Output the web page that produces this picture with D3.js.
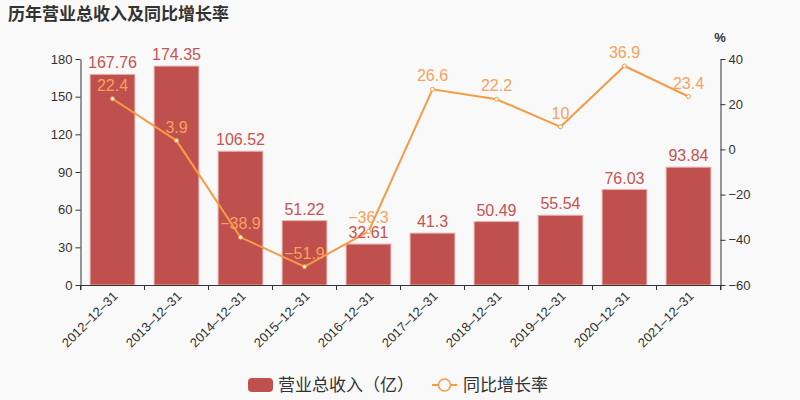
<!DOCTYPE html>
<html><head><meta charset="utf-8">
<script src="https://cdn.jsdelivr.net/npm/d3@7"></script>
<style>
html,body{margin:0;padding:0;background:#f9f9f9;}
svg{display:block;font-family:"Liberation Sans","Noto Sans CJK SC",sans-serif;}
</style></head><body>
<svg id="c" width="800" height="400"></svg>
<script>
const categories = ["2012-12-31","2013-12-31","2014-12-31","2015-12-31","2016-12-31","2017-12-31","2018-12-31","2019-12-31","2020-12-31","2021-12-31"];
const revenue = [167.76,174.35,106.52,51.22,32.61,41.3,50.49,55.54,76.03,93.84];
const growth = [22.4,3.9,-38.9,-51.9,-36.3,26.6,22.2,10,36.9,23.4];
const leftTicks = [0,30,60,90,120,150,180];
const rightTicks = [-60,-40,-20,0,20,40];

const svg = d3.select("#c");
const L=80.5, R=720.5, T=59, B=285;
const x = d3.scaleBand().domain(categories).range([L,R]).paddingInner(0.3).paddingOuter(0.15);
const y = d3.scaleLinear().domain([0,180]).range([B,T]);
const y2 = d3.scaleLinear().domain([-60,40]).range([B,T]);
const barColor="#c0504d", lineColor="#f79a45";

svg.append("rect").attr("width",800).attr("height",400).attr("fill","#f9f9f9");
svg.append("text").attr("x",8).attr("y",20).text("历年营业总收入及同比增长率")
  .attr("font-family","'Noto Sans CJK SC',sans-serif").attr("font-weight","bold").attr("font-size",17).attr("fill","#333");

// bars
svg.append("g").selectAll("rect").data(revenue).join("rect")
  .attr("x",(d,i)=>x(categories[i])).attr("width",x.bandwidth())
  .attr("y",d=>y(d)).attr("height",d=>B-y(d))
  .attr("fill",barColor).attr("stroke","#e8b0ae").attr("stroke-width",1);

// axes
const ax = svg.append("g").attr("transform",`translate(0,${B})`)
  .call(d3.axisBottom(x).tickSize(5).tickFormat(d=>d.replace(/-/g,"\u2013")));
ax.selectAll(".tick line").attr("transform",`translate(${-x.step()/2},0)`);
ax.append("line").attr("x1",R).attr("x2",R).attr("y1",0).attr("y2",5).attr("stroke","#333");
ax.selectAll("text").attr("font-size",13).attr("fill","#333")
  .attr("text-anchor","end").attr("dx",null).attr("dy",null)
  .attr("transform","translate(6,12) rotate(-45)").attr("y",0).attr("x",0);
ax.select(".domain").attr("stroke","#333");
ax.selectAll(".tick line").attr("stroke","#333");

const ay = svg.append("g").attr("transform",`translate(${L},0)`)
  .call(d3.axisLeft(y).tickValues(leftTicks).tickSize(5).tickSizeOuter(0));
ay.selectAll("text").attr("font-size",13).attr("fill","#333");
ay.selectAll("line,.domain").attr("stroke","#333");

const ay2 = svg.append("g").attr("transform",`translate(${R},0)`)
  .call(d3.axisRight(y2).tickValues(rightTicks).tickSize(5).tickSizeOuter(0).tickFormat(d=>d<0?"\u2212"+(-d):d));
ay2.selectAll("text").attr("font-size",13).attr("fill","#333");
ay2.selectAll("line,.domain").attr("stroke","#333");
svg.append("text").attr("x",720).attr("y",42).attr("text-anchor","middle").attr("font-size",13).attr("font-weight","bold").attr("fill","#333").text("%");

// line
const cx = i=>x(categories[i])+x.bandwidth()/2;
svg.append("path").datum(growth)
  .attr("d",d3.line().x((d,i)=>cx(i)).y(d=>y2(d)))
  .attr("fill","none").attr("stroke",lineColor).attr("stroke-width",2);
svg.append("g").selectAll("circle").data(growth).join("circle")
  .attr("cx",(d,i)=>cx(i)).attr("cy",d=>y2(d)).attr("r",2)
  .attr("fill","#fff").attr("stroke",lineColor).attr("stroke-width",1);

// labels
svg.append("g").selectAll("text").data(revenue).join("text")
  .attr("x",(d,i)=>cx(i)).attr("y",d=>y(d)-6).attr("text-anchor","middle")
  .attr("font-size",16).attr("fill","#c65350").text(d=>d);
svg.append("g").selectAll("text").data(growth).join("text")
  .attr("x",(d,i)=>cx(i)).attr("y",d=>y2(d)-8).attr("text-anchor","middle")
  .attr("font-size",16).attr("fill","#f7a25a").text(d=>d<0?"\u2212"+(-d):d);

// legend
const lg = svg.append("g").attr("font-family","'Noto Sans CJK SC',sans-serif");
lg.append("rect").attr("x",248).attr("y",378).attr("width",25).attr("height",14).attr("rx",4).attr("fill",barColor);
lg.append("text").attr("x",278).attr("y",391).attr("font-size",17).attr("fill","#333").text("营业总收入（亿）");
lg.append("line").attr("x1",432).attr("x2",457).attr("y1",385).attr("y2",385).attr("stroke",lineColor).attr("stroke-width",2);
lg.append("circle").attr("cx",444.5).attr("cy",385).attr("r",6).attr("fill","#f9f9f9").attr("stroke",lineColor).attr("stroke-width",1.5);
lg.append("text").attr("x",463).attr("y",391).attr("font-size",17).attr("fill","#333").text("同比增长率");
</script></body></html>
